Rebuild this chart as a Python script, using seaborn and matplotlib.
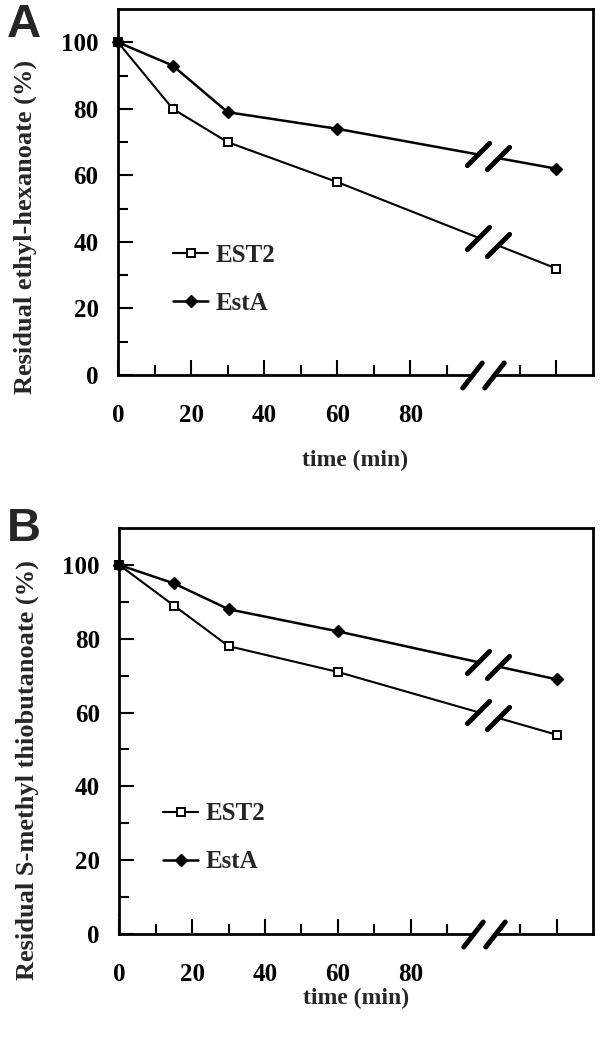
import numpy as np
import pandas as pd
import matplotlib
matplotlib.use("Agg")
import matplotlib.pyplot as plt
import seaborn as sns
from matplotlib.markers import MarkerStyle
from matplotlib.path import Path
from matplotlib.ticker import FixedLocator, FixedFormatter

# plotted x position of each sampling time (the last one sits past the axis break)
TIME_POS = [0, 15, 30, 60, 120]

EST2_A = [100, 80, 70, 58, 32]
ESTA_A = [100, 93, 79, 74, 62]
EST2_B = [100, 89, 78, 71, 54]
ESTA_B = [100, 95, 88, 82, 69]

SERIES = ["EST2", "EstA"]
PANELS = ["A", "B"]
YLABELS = ["Residual ethyl-hexanoate (%)", "Residual S-methyl thiobutanoate (%)"]
XLABEL = "time (min)"

XMAJOR = [0, 20, 40, 60, 80, 120]
XMAJOR_LABELS = ["0", "20", "40", "60", "80", ""]
XMINOR = [10, 30, 50, 70, 90, 110]
YMAJOR = [0, 20, 40, 60, 80, 100]
YMINOR = [10, 30, 50, 70, 90]

AXIS_BREAK = [97, 103]
LINE_BREAK = [98.5, 104]

sns.set_theme(style="ticks")
plt.rcParams["font.family"] = ["Liberation Serif", "DejaVu Serif"]
plt.rcParams["font.weight"] = "bold"


def slash(angle):
    a = np.deg2rad(angle)
    verts = [[-np.cos(a), -np.sin(a)], [np.cos(a), np.sin(a)]]
    return MarkerStyle(Path(verts), capstyle="round")


def draw_break(ax, xs, ys, angle, size, gap_lw):
    # white gap between the two slashes, then the slashes themselves
    ax.plot(xs, ys, color="white", lw=gap_lw, solid_capstyle="butt", clip_on=False, zorder=5)
    ax.plot(xs, ys, ls="none", marker=slash(angle), ms=size, mec="black", mfc="none",
            mew=3.6, clip_on=False, zorder=6)


def panel(fig, rect, est2, esta, ylabel, letter, letter_y, xlabel_y, leg_anchor):
    ax = fig.add_axes(rect)
    df = pd.DataFrame({"time": TIME_POS * 2, "residual": est2 + esta,
                       "enzyme": [SERIES[0]] * len(est2) + [SERIES[1]] * len(esta)})
    sub = df[df.enzyme == "EST2"]
    sns.lineplot(data=sub, x="time", y="residual", ax=ax, color="black", lw=1.5,
                 marker="s", markersize=6, markerfacecolor="white", markeredgecolor="black",
                 markeredgewidth=1.4, label="EST2", clip_on=False, zorder=3)
    sub = df[df.enzyme == "EstA"]
    sns.lineplot(data=sub, x="time", y="residual", ax=ax, color="black", lw=1.8,
                 marker="D", markersize=6.3, markerfacecolor="black", markeredgecolor="black",
                 markeredgewidth=1.0, label="EstA", clip_on=False, zorder=4)

    ax.set_xlim(0, 130)
    ax.set_ylim(0, 110)
    ax.xaxis.set_major_locator(FixedLocator(XMAJOR))
    ax.xaxis.set_major_formatter(FixedFormatter(XMAJOR_LABELS))
    ax.xaxis.set_minor_locator(FixedLocator(XMINOR))
    ax.yaxis.set_major_locator(FixedLocator(YMAJOR))
    ax.yaxis.set_minor_locator(FixedLocator(YMINOR))
    ax.tick_params(which="both", direction="in", width=1.5, colors="black", labelsize=18)
    ax.tick_params(which="major", length=11)
    ax.tick_params(which="minor", length=7)
    ax.tick_params(axis="x", which="major", pad=21)
    ax.tick_params(axis="y", which="major", pad=14)
    for sp in ax.spines.values():
        sp.set_visible(True)
        sp.set_linewidth(2.0)
        sp.set_color("black")

    ax.set_ylabel(ylabel, fontsize=19, fontweight="bold")
    ax.yaxis.set_label_coords(-0.17, 0.405)
    ax.set_xlabel(XLABEL, fontsize=17, fontweight="bold", va="top")
    ax.xaxis.set_label_coords(0.5, xlabel_y)

    # axis breaks on both series and on the x axis
    for vals in (est2, esta):
        draw_break(ax, LINE_BREAK, np.interp(LINE_BREAK, TIME_POS, vals), 45, 16, 5)
    draw_break(ax, AXIS_BREAK, [0, 0], 52, 18, 6)

    leg = ax.legend(loc="upper left", bbox_to_anchor=leg_anchor, frameon=False, fontsize=18,
                    handlelength=1.4, handletextpad=0.3, labelspacing=1.0, borderpad=0,
                    borderaxespad=0, numpoints=1)
    for t in leg.get_texts():
        t.set_fontweight("bold")

    fig.text(0.012, letter_y, letter, fontsize=34, fontweight="bold", va="top",
             family=["Liberation Sans", "DejaVu Sans"])
    return ax


fig = plt.figure(figsize=(6.02, 10.38), dpi=100)
panel(fig, [0.196, 0.6387, 0.789, 0.3526], EST2_A, ESTA_A, YLABELS[0], PANELS[0],
      0.997, -0.205, (0.116, 0.358))
panel(fig, [0.198, 0.1002, 0.787, 0.3911], EST2_B, ESTA_B, YLABELS[1], PANELS[1],
      0.512, -0.133, (0.093, 0.324))

fig.savefig("out.png", dpi=100)
